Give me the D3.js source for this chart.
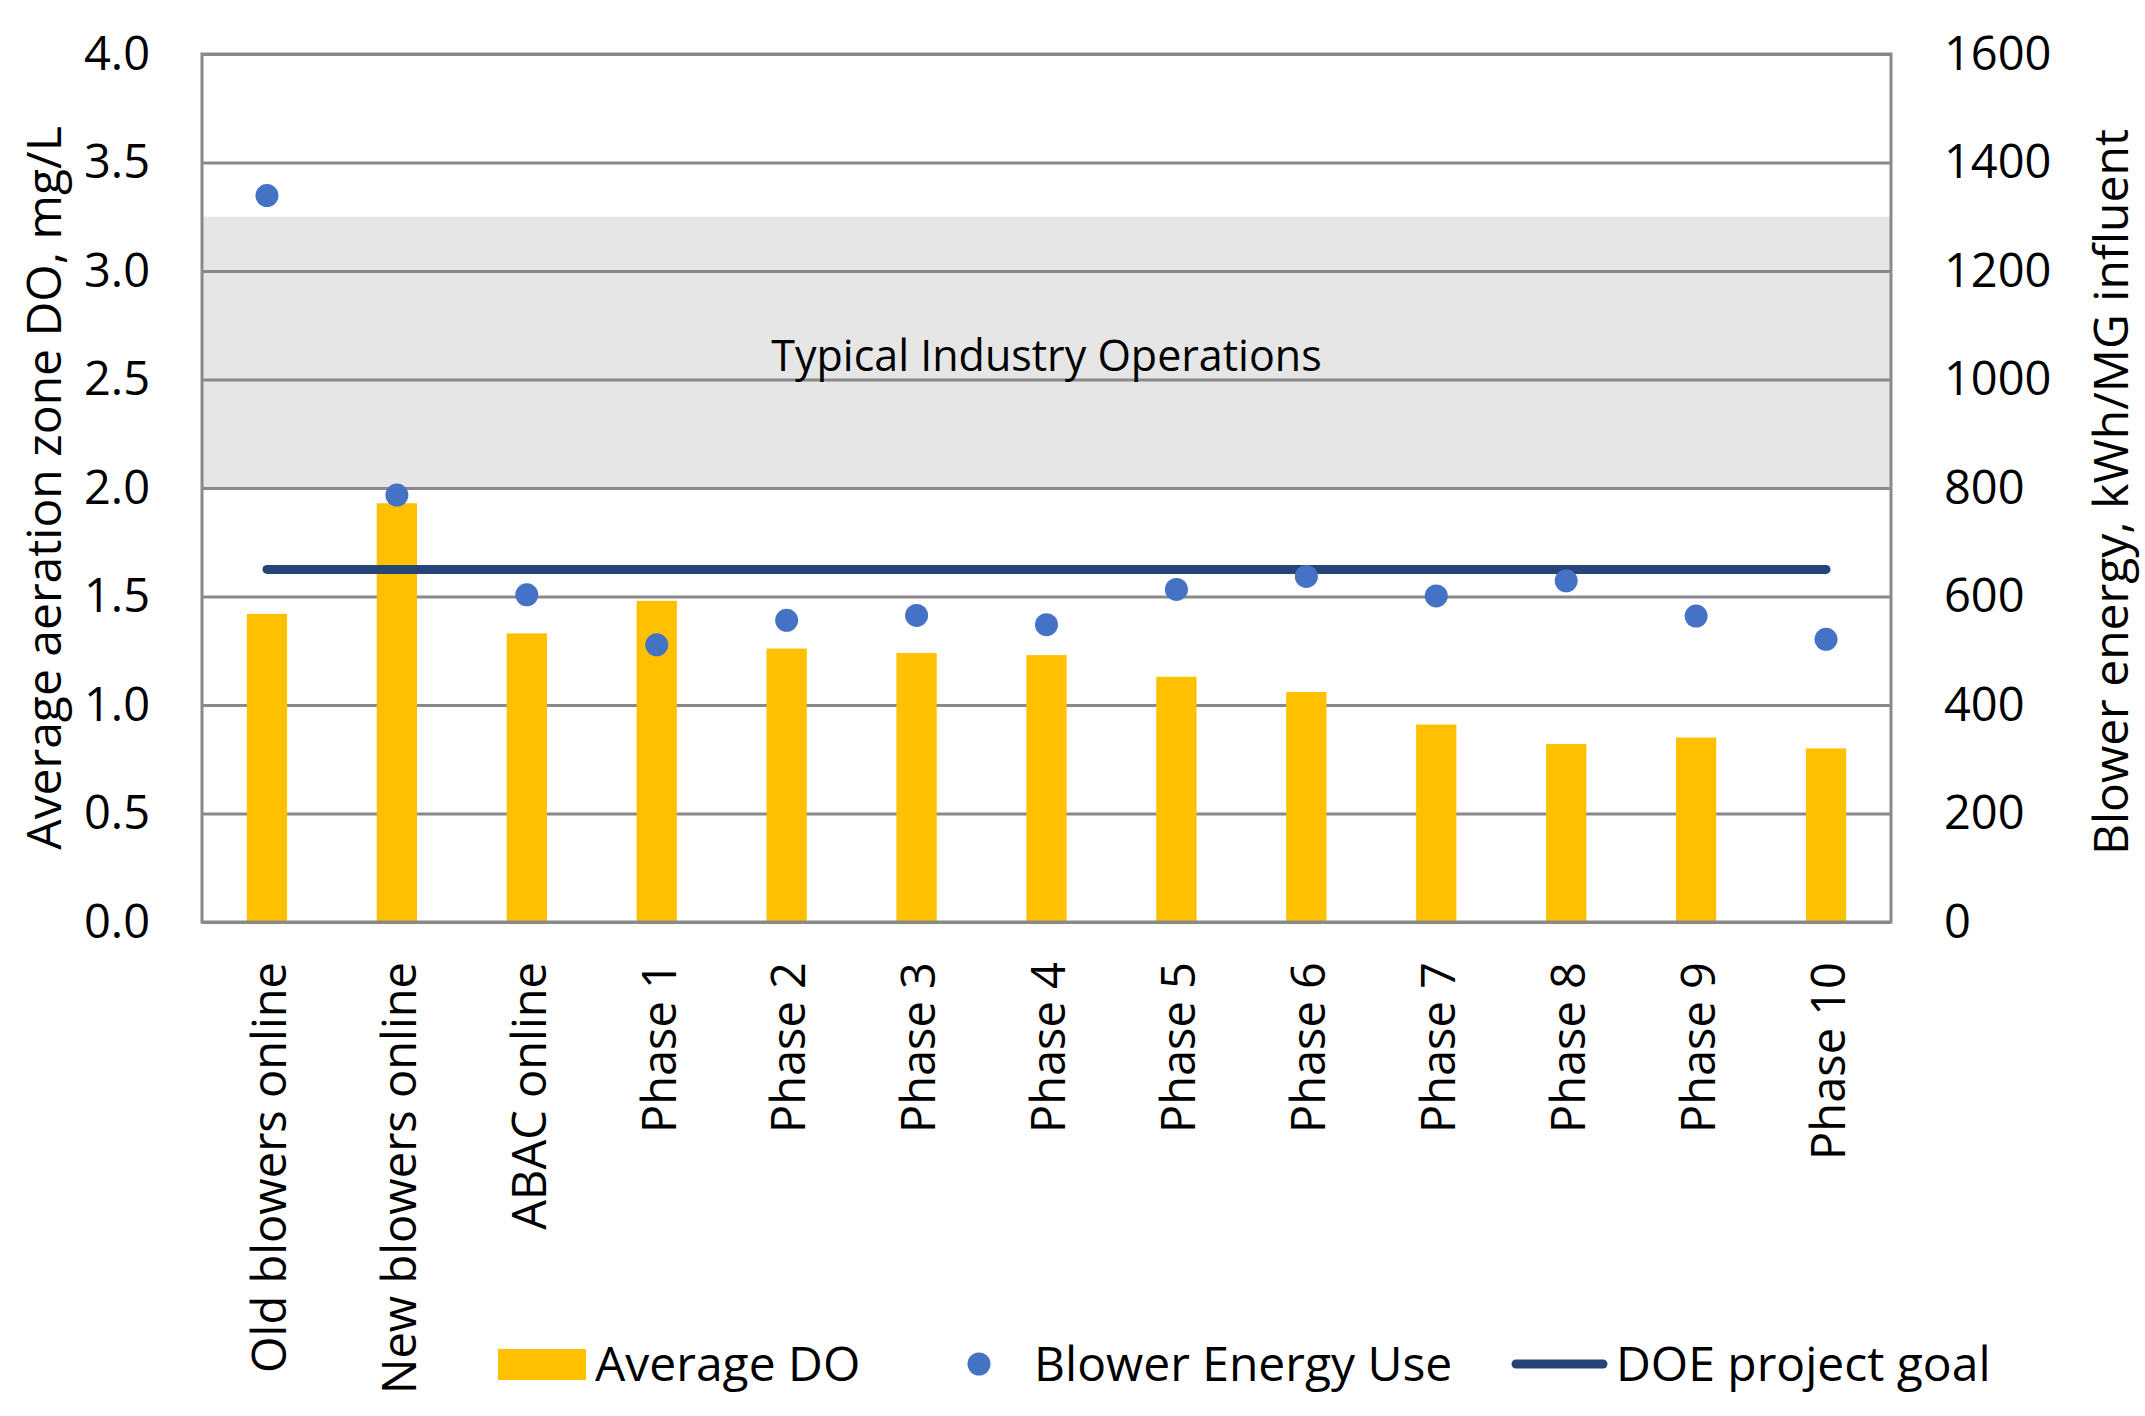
<!DOCTYPE html>
<html>
<head>
<meta charset="utf-8">
<script src="https://cdn.jsdelivr.net/npm/d3@7"></script>
<style>
  html, body { margin: 0; padding: 0; background: #ffffff; }
  svg text { font-family: "Open Sans", "Noto Sans", sans-serif; fill: #000; }
</style>
</head>
<body>
<svg id="chart" width="2145" height="1416"></svg>
<script>
// ---- data ----
const categories = ["Old blowers online", "New blowers online", "ABAC online",
  "Phase 1", "Phase 2", "Phase 3", "Phase 4", "Phase 5", "Phase 6",
  "Phase 7", "Phase 8", "Phase 9", "Phase 10"];
const averageDO = [1.42, 1.93, 1.33, 1.48, 1.26, 1.24, 1.23, 1.13, 1.06, 0.91, 0.82, 0.85, 0.80];
const blowerEnergy = [1339, 787, 603, 511, 556, 565, 548, 613, 637, 601, 629, 564, 521];
const doeGoal = 650;            // kWh/MG influent
const typicalRange = [2.0, 3.25]; // mg/L band "Typical Industry Operations"
const leftTicks = [0, 0.5, 1.0, 1.5, 2.0, 2.5, 3.0, 3.5, 4.0];
const rightTicks = [0, 200, 400, 600, 800, 1000, 1200, 1400, 1600];
const seriesNames = ["Average DO", "Blower Energy Use", "DOE project goal"];
const leftTitle = "Average aeration zone DO, mg/L";
const rightTitle = "Blower energy, kWh/MG influent";
const bandLabel = "Typical Industry Operations";

// ---- layout ----
const L = 202, R = 1891, T = 54, B = 922;
const gold = "#FFC000", blue = "#4472C4", navy = "#264478", grid = "#898989";

const svg = d3.select("#chart");
const x = d3.scaleBand().domain(categories).range([L, R]).paddingInner(0).paddingOuter(0);
const yL = d3.scaleLinear().domain([0, 4]).range([B, T]);
const yR = d3.scaleLinear().domain([0, 1600]).range([B, T]);
const barW = x.bandwidth() * 0.31;

// typical band
svg.append("rect")
  .attr("x", L).attr("width", R - L)
  .attr("y", yL(typicalRange[1])).attr("height", yL(typicalRange[0]) - yL(typicalRange[1]))
  .attr("fill", "#E6E6E6");

// gridlines via axis
const gridAxis = d3.axisLeft(yL).tickValues(leftTicks).tickSize(-(R - L)).tickFormat("");
const gg = svg.append("g").attr("transform", `translate(${L},0)`).call(gridAxis);
gg.select(".domain").remove();
gg.selectAll("line").attr("stroke", grid).attr("stroke-width", 3);

// band label
svg.append("text")
  .attr("x", (L + R) / 2).attr("y", 371)
  .attr("text-anchor", "middle")
  .style("font-size", "43px")
  .text(bandLabel);

// bars
svg.append("g").selectAll("rect").data(categories).join("rect")
  .attr("x", (d) => x(d) + x.bandwidth() / 2 - barW / 2)
  .attr("width", barW)
  .attr("y", (d, i) => yL(averageDO[i]))
  .attr("height", (d, i) => yL(0) - yL(averageDO[i]))
  .attr("fill", gold);

// plot border
svg.append("rect").attr("x", L).attr("y", T).attr("width", R - L).attr("height", B - T)
  .attr("fill", "none").attr("stroke", grid).attr("stroke-width", 3);

// goal line
const first = categories[0], last = categories[categories.length - 1];
svg.append("line")
  .attr("x1", x(first) + x.bandwidth() / 2).attr("x2", x(last) + x.bandwidth() / 2)
  .attr("y1", yR(doeGoal)).attr("y2", yR(doeGoal))
  .attr("stroke", navy).attr("stroke-width", 9).attr("stroke-linecap", "round");

// points
svg.append("g").selectAll("circle").data(categories).join("circle")
  .attr("cx", (d) => x(d) + x.bandwidth() / 2)
  .attr("cy", (d, i) => yR(blowerEnergy[i]))
  .attr("r", 11.5)
  .attr("fill", blue);

// left axis labels
const la = svg.append("g").attr("transform", `translate(${L},0)`)
  .call(d3.axisLeft(yL).tickValues(leftTicks).tickSize(0).tickPadding(52).tickFormat(d3.format(".1f")));
la.select(".domain").remove();
la.selectAll("text").style("font-size", "47px").style("font-family", "'Open Sans', sans-serif").attr("fill", "#000");

// right axis labels
const ra = svg.append("g").attr("transform", `translate(${R},0)`)
  .call(d3.axisRight(yR).tickValues(rightTicks).tickSize(0).tickPadding(53).tickFormat(d3.format("d")));
ra.select(".domain").remove();
ra.selectAll("text").style("font-size", "47px").style("font-family", "'Open Sans', sans-serif").attr("fill", "#000");

// category labels
const xa = svg.append("g").attr("transform", `translate(0,${B})`)
  .call(d3.axisBottom(x).tickSize(0).tickPadding(0));
xa.select(".domain").remove();
xa.selectAll("text")
  .style("font-size", "47px").style("font-family", "'Open Sans', sans-serif").attr("fill", "#000")
  .attr("text-anchor", "end")
  .attr("transform", "translate(0,40) rotate(-90)")
  .attr("x", 0).attr("y", 0).attr("dy", "0.4em");

// axis titles
svg.append("text")
  .attr("transform", `translate(61,${(T + B) / 2}) rotate(-90)`)
  .attr("text-anchor", "middle")
  .style("font-size", "48px")
  .text(leftTitle);
svg.append("text")
  .attr("transform", `translate(2128,${(T + B) / 2 + 4}) rotate(-90)`)
  .attr("text-anchor", "middle")
  .style("font-size", "48px")
  .text(rightTitle);

// legend
const ly = 1364;
const lg = svg.append("g");
lg.append("rect").attr("x", 498).attr("y", ly - 15).attr("width", 88).attr("height", 31).attr("fill", gold);
lg.append("text").attr("x", 595).attr("y", ly).attr("dy", "0.36em").style("font-size", "48px").text(seriesNames[0]);
lg.append("circle").attr("cx", 979).attr("cy", ly).attr("r", 11.5).attr("fill", blue);
lg.append("text").attr("x", 1034).attr("y", ly).attr("dy", "0.36em").style("font-size", "48px").text(seriesNames[1]);
lg.append("line").attr("x1", 1516).attr("x2", 1603).attr("y1", ly).attr("y2", ly)
  .attr("stroke", navy).attr("stroke-width", 9).attr("stroke-linecap", "round");
lg.append("text").attr("x", 1616).attr("y", ly).attr("dy", "0.36em").style("font-size", "48px").text(seriesNames[2]);
</script>
</body>
</html>
